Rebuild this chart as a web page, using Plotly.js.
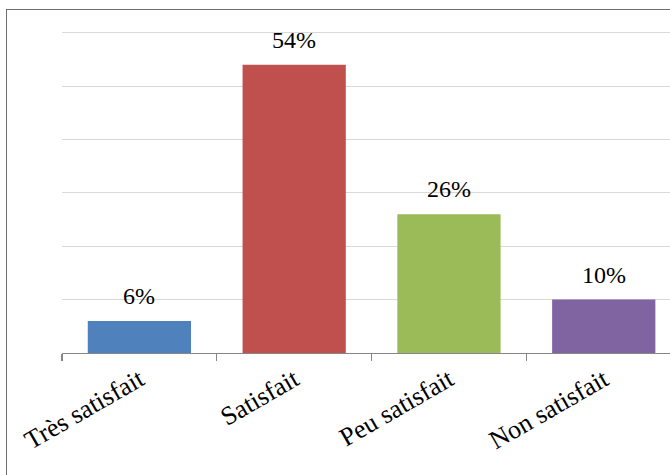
<!DOCTYPE html>
<html>
<head>
<meta charset="utf-8">
<script src="https://cdn.plot.ly/plotly-3.0.1.min.js"></script>
<style>
html,body{margin:0;padding:0;background:#fff;overflow:hidden;}
#chart{width:670px;height:475px;}
#frame{position:absolute;left:6px;top:9px;width:720px;height:520px;border-left:1px solid #6e6e6e;border-top:1px solid #6e6e6e;pointer-events:none;}
#warm{position:absolute;left:640px;top:455px;font-family:'Liberation Serif';font-size:24px;color:#fff;pointer-events:none;}
</style>
</head>
<body>
<div id="chart"></div>
<div id="frame"></div>
<div id="warm">&nbsp;</div>
<script>
var categories = ["Très satisfait", "Satisfait", "Peu satisfait", "Non satisfait"];
var values = [6, 54, 26, 10];
var barColors = ["#4f81bd", "#c0504d", "#9bbb59", "#8064a2"];

var FONT = "Liberation Serif, Times New Roman, serif";

// force the serif system font to be resolved before drawing
var probe = document.createElement('span');
probe.style.fontFamily = FONT;
probe.style.fontSize = '24px';
probe.style.position = 'absolute';
probe.style.left = '-9999px';
probe.textContent = 'Très satisfait 54%';
document.body.appendChild(probe);
var _w = probe.offsetWidth;

var trace = {
  type: 'bar',
  x: categories,
  y: values,
  marker: {color: barColors},
  width: 0.667,
  hoverinfo: 'none'
};

var annotations = categories.map(function(c, i){
  return {
    x: c, y: values[i], xref: 'x', yref: 'y',
    text: values[i] + '%',
    showarrow: false,
    yanchor: 'bottom',
    yshift: 10,
    font: {family: FONT, size: 24, color: '#000'}
  };
});

var layout = {
  width: 670, height: 475,
  margin: {l: 62, r: 0, t: 30, b: 122, pad: 0},
  showlegend: false,
  font: {family: FONT},
  xaxis: {
    type: 'category',
    range: [-0.5, 3.428],
    showline: true, linecolor: '#868686', linewidth: 1.3,
    ticks: 'outside', tickson: 'boundaries', ticklen: 7, tickcolor: '#868686', tickwidth: 1.3,
    tickangle: -30,
    tickfont: {family: FONT, size: 26, color: '#000'},
    showgrid: false, zeroline: false
  },
  yaxis: {
    range: [0, 60.5], dtick: 10,
    showticklabels: false, showgrid: true, gridcolor: '#d9d9d9',
    zeroline: false, showline: false, ticks: ''
  },
  annotations: annotations
};

Plotly.newPlot('chart', [trace], layout, {staticPlot: true, displayModeBar: false}).then(function(){
  document.getElementById('warm').textContent = 'Très ' + _w;
  return (document.fonts && document.fonts.ready) ? document.fonts.ready : null;
}).then(function(){
  return Plotly.redraw('chart');
}).then(function(){
  document.getElementById('warm').textContent = '\u00a0';
});
</script>
</body>
</html>
